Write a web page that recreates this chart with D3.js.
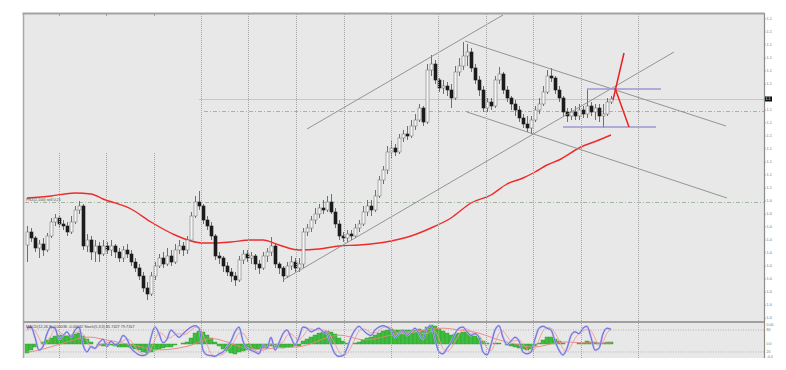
<!DOCTYPE html>
<html><head><meta charset="utf-8">
<script src="https://cdn.jsdelivr.net/npm/d3@7"></script>
<style>html,body{margin:0;padding:0;background:#fff;} svg{display:block;}</style>
</head><body>
<svg id="c" width="786" height="370"></svg>
<script>
// ---------- DATA ----------
const openP = [1.0715,1.0780,1.0750,1.0700,1.0720,1.0690,1.0760,1.0830,1.0850,1.0820,
1.0810,1.0780,1.0830,1.0890,1.0910,1.0710,1.0740,1.0680,1.0710,1.0670,
1.0710,1.0690,1.0710,1.0680,1.0650,1.0690,1.0670,1.0630,1.0600,1.0560,
1.0500,1.0470,1.0560,1.0610,1.0650,1.0620,1.0660,1.0630,1.0690,1.0710,
1.0690,1.0740,1.0860,1.0930,1.0910,1.0840,1.0810,1.0760,1.0660,1.0650,
1.0610,1.0580,1.0560,1.0540,1.0640,1.0670,1.0650,1.0660,1.0620,1.0600,
1.0660,1.0680,1.0710,1.0620,1.0600,1.0560,1.0610,1.0630,1.0600,1.0620,
1.0780,1.0800,1.0840,1.0870,1.0900,1.0890,1.0930,1.0880,1.0820,1.0760,
1.0750,1.0770,1.0760,1.0800,1.0820,1.0880,1.0910,1.0890,1.0960,1.1040,
1.1090,1.1180,1.1200,1.1180,1.1250,1.1270,1.1260,1.1310,1.1340,1.1400,
1.1330,1.1590,1.1620,1.1540,1.1500,1.1510,1.1490,1.1450,1.1580,1.1610,
1.1660,1.1680,1.1600,1.1540,1.1490,1.1400,1.1430,1.1410,1.1540,1.1570,
1.1490,1.1450,1.1420,1.1390,1.1350,1.1320,1.1300,1.1340,1.1390,1.1420,
1.1480,1.1560,1.1550,1.1490,1.1450,1.1380,1.1360,1.1380,1.1360,1.1390,
1.1370,1.1410,1.1380,1.1400,1.1360,1.1370,1.1430];
const highP = [1.0810,1.0800,1.0760,1.0740,1.0750,1.0775,1.0850,1.0870,1.0860,1.0840,
1.0830,1.0860,1.0910,1.0935,1.0920,1.0770,1.0760,1.0740,1.0730,1.0740,
1.0730,1.0740,1.0720,1.0700,1.0710,1.0720,1.0690,1.0650,1.0620,1.0580,
1.0530,1.0580,1.0630,1.0670,1.0680,1.0700,1.0690,1.0720,1.0740,1.0730,
1.0760,1.0880,1.0960,1.0985,1.0920,1.0860,1.0830,1.0770,1.0680,1.0660,
1.0630,1.0600,1.0580,1.0660,1.0690,1.0690,1.0680,1.0670,1.0640,1.0680,
1.0700,1.0755,1.0720,1.0630,1.0610,1.0630,1.0660,1.0650,1.0650,1.0800,
1.0820,1.0860,1.0900,1.0920,1.0940,1.0960,1.0970,1.0900,1.0840,1.0780,
1.0790,1.0790,1.0820,1.0840,1.0910,1.0940,1.0940,1.0990,1.1060,1.1110,
1.1210,1.1240,1.1220,1.1270,1.1290,1.1310,1.1340,1.1370,1.1420,1.1410,
1.1620,1.1665,1.1640,1.1550,1.1540,1.1530,1.1520,1.1610,1.1650,1.1730,
1.1720,1.1700,1.1620,1.1560,1.1510,1.1450,1.1450,1.1560,1.1605,1.1580,
1.1510,1.1460,1.1440,1.1410,1.1370,1.1360,1.1360,1.1410,1.1450,1.1510,
1.1590,1.1600,1.1560,1.1510,1.1460,1.1400,1.1400,1.1410,1.1420,1.1410,
1.1495,1.1430,1.1420,1.1420,1.1420,1.1450,1.1460];
const lowP = [1.0630,1.0730,1.0680,1.0650,1.0660,1.0680,1.0750,1.0810,1.0800,1.0790,
1.0760,1.0770,1.0820,1.0870,1.0690,1.0680,1.0640,1.0630,1.0630,1.0660,
1.0670,1.0660,1.0650,1.0630,1.0630,1.0650,1.0610,1.0580,1.0540,1.0480,
1.0440,1.0460,1.0540,1.0600,1.0600,1.0610,1.0610,1.0620,1.0670,1.0660,
1.0670,1.0730,1.0850,1.0890,1.0820,1.0790,1.0740,1.0640,1.0620,1.0580,
1.0560,1.0530,1.0510,1.0530,1.0620,1.0630,1.0620,1.0590,1.0570,1.0590,
1.0630,1.0660,1.0600,1.0570,1.0530,1.0550,1.0590,1.0580,1.0580,1.0600,
1.0760,1.0780,1.0820,1.0850,1.0870,1.0880,1.0870,1.0800,1.0740,1.0730,
1.0730,1.0740,1.0750,1.0780,1.0810,1.0860,1.0860,1.0880,1.0950,1.1020,
1.1070,1.1150,1.1160,1.1170,1.1230,1.1240,1.1250,1.1290,1.1330,1.1310,
1.1320,1.1560,1.1520,1.1480,1.1470,1.1460,1.1400,1.1440,1.1560,1.1590,
1.1610,1.1580,1.1520,1.1460,1.1380,1.1380,1.1390,1.1400,1.1520,1.1470,
1.1430,1.1390,1.1360,1.1330,1.1300,1.1280,1.1270,1.1330,1.1370,1.1410,
1.1470,1.1530,1.1470,1.1430,1.1360,1.1330,1.1340,1.1340,1.1340,1.1350,
1.1350,1.1360,1.1340,1.1330,1.1300,1.1360,1.1420];
const closeP = [1.0780,1.0750,1.0700,1.0720,1.0690,1.0760,1.0830,1.0850,1.0820,1.0810,
1.0780,1.0830,1.0890,1.0910,1.0710,1.0740,1.0680,1.0710,1.0670,1.0710,
1.0690,1.0710,1.0680,1.0650,1.0690,1.0670,1.0630,1.0600,1.0560,1.0500,
1.0470,1.0560,1.0610,1.0650,1.0620,1.0660,1.0630,1.0690,1.0710,1.0690,
1.0740,1.0860,1.0930,1.0910,1.0840,1.0810,1.0760,1.0660,1.0650,1.0610,
1.0580,1.0560,1.0540,1.0640,1.0670,1.0650,1.0660,1.0620,1.0600,1.0660,
1.0680,1.0710,1.0620,1.0600,1.0560,1.0610,1.0630,1.0600,1.0620,1.0780,
1.0800,1.0840,1.0870,1.0900,1.0890,1.0930,1.0880,1.0820,1.0760,1.0750,
1.0770,1.0760,1.0800,1.0820,1.0880,1.0910,1.0890,1.0960,1.1040,1.1090,
1.1180,1.1200,1.1180,1.1250,1.1270,1.1260,1.1310,1.1340,1.1400,1.1330,
1.1590,1.1620,1.1540,1.1500,1.1510,1.1490,1.1450,1.1580,1.1610,1.1660,
1.1680,1.1600,1.1540,1.1490,1.1400,1.1430,1.1410,1.1540,1.1570,1.1490,
1.1450,1.1420,1.1390,1.1350,1.1320,1.1300,1.1340,1.1390,1.1420,1.1480,
1.1560,1.1550,1.1490,1.1450,1.1380,1.1360,1.1380,1.1360,1.1390,1.1370,
1.1410,1.1380,1.1400,1.1360,1.1370,1.1430,1.1445];

// 200-period moving average read at selected bars: [bar, price]
const maPoints = [[0,1.0950],[6,1.0960],[12,1.0975],[16,1.0970],[19,1.0945],[26,1.0895],[31,1.0830],[37,1.0765],[41,1.0735],[44,1.0725],[47,1.0725],[51,1.0730],[56,1.0740],[59,1.0740],[63,1.0715],[68,1.0690],[73,1.0695],[78,1.0710],[83,1.0715],[91,1.0735],[96,1.0760],[101,1.0800],[106,1.0850],[111,1.0925],[116,1.0965],[120,1.1020],[124,1.1050],[127,1.1080],[130,1.1115],[133,1.1140],[138,1.1200],[143,1.1240],[146,1.1265]];

// drawn objects: [bar1, price1, bar2, price2]
const trendLines = [[70,1.1295,119,1.1865],[64,1.0540,161.75,1.1680],[109.5,1.1735,174.75,1.1310],[110,1.1380,175,1.0950]];
const levelLines = [[140,1.1495,158.5,1.1495],[134,1.1305,157.25,1.1305]];
const redLines = [[146.5,1.1440,149.25,1.1675],[147,1.1500,150.5,1.1305]];

// order / price levels: [startBar, price]
const orderLevels = [[-0.5,1.0930],[44.25,1.1385]];
const bidLevel = [43,1.1445];
const orderLabel = "PRZ(2,100) sell 0.21";

// time grid (bar positions)
const gridBars = [8,19.75,31.75,43.5,55.25,67.25,79.25,91,102.75,114.75,126.5,138.5,152.75];

// price axis ticks
const priceTicks = [1.1845,1.1780,1.1715,1.1650,1.1585,1.1520,1.1455,1.1390,1.1325,1.1260,1.1195,1.1130,1.1065,1.1000,1.0935,1.0870,1.0805,1.0740,1.0675,1.0610,1.0545,1.0480,1.0415,1.0350];

// MACD histogram and signal (pips)
const macdHist = [-45,-30,-15,0,10,20,30,40,45,45,40,45,50,55,40,25,10,0,-5,-10,-10,-5,-10,-15,-15,-15,-20,-25,-30,-40,-45,-40,-30,-25,-20,-15,-15,-5,0,5,10,30,55,65,60,45,30,10,-10,-25,-35,-45,-50,-40,-35,-30,-25,-25,-25,-20,-15,-10,-15,-15,-20,-15,-15,-10,-10,15,25,35,45,55,60,65,60,50,30,15,5,0,5,10,20,30,35,45,55,65,70,75,70,70,70,70,70,70,75,70,85,95,90,75,65,55,45,50,55,60,60,50,40,30,15,5,0,5,5,0,-5,-10,-15,-20,-25,-30,-25,-10,5,20,35,35,25,15,5,0,0,0,5,5,15,10,10,5,5,10,10];
const macdSignal = [-40,-38,-35,-30,-25,-20,-14,-8,-2,4,10,16,22,28,32,34,34,32,28,24,20,16,12,8,4,0,-4,-8,-12,-17,-22,-26,-28,-29,-29,-28,-26,-23,-20,-16,-12,-6,2,10,18,24,27,26,22,16,10,4,-4,-12,-18,-22,-25,-26,-26,-25,-24,-22,-20,-19,-18,-17,-16,-15,-14,-10,-5,2,9,17,25,32,38,42,44,43,39,34,28,24,21,21,23,26,30,35,40,45,50,54,58,61,63,65,67,68,70,73,76,78,79,78,76,73,70,68,66,63,59,54,48,41,34,27,21,15,10,5,0,-5,-9,-13,-15,-15,-13,-9,-4,1,5,8,10,10,9,8,7,6,6,6,6,5,5,5,5];
// Stochastic main and signal
const stochMain = [85,88,60,25,35,70,88,85,55,65,75,60,80,88,40,20,35,30,45,55,35,50,40,45,65,55,30,20,12,10,15,60,88,70,45,55,80,70,60,70,80,88,92,85,25,12,10,8,15,20,35,50,75,88,50,30,25,20,15,40,30,60,25,45,70,80,60,40,60,88,85,75,80,85,75,70,40,15,8,10,30,60,80,90,80,70,65,80,88,92,88,80,60,70,80,65,75,85,70,55,85,90,55,20,15,30,45,70,85,88,75,65,70,60,20,12,40,80,92,60,40,50,60,50,20,15,20,55,85,90,85,80,50,25,12,30,65,75,70,85,90,60,25,30,70,85,82];
const stochSignal = [80,84,78,58,40,43,64,81,76,68,65,67,72,76,69,50,32,28,37,43,45,47,42,45,50,55,50,35,21,14,12,28,54,73,68,57,60,68,70,67,70,79,87,88,67,41,16,10,11,14,23,35,53,71,71,56,35,25,20,25,28,43,38,43,47,65,70,60,53,63,78,83,80,80,80,77,62,42,21,11,16,33,57,77,83,80,72,72,78,87,89,87,76,70,70,72,73,75,77,70,70,77,77,55,30,22,30,48,67,81,83,76,70,65,50,31,24,44,71,77,64,50,50,53,43,28,18,30,53,77,87,85,72,52,29,22,36,57,70,77,82,78,58,38,48,72,80];
const indicatorLabel = "MACD(12,26,9) 0.00036 -0.00032  Stoch(5,3,3) 81.7427 79.7167";
const macdTicks = [95,0,-65];
const stochTicks = [80,20];

// ---------- DRAW ----------
const svg = d3.select('#c');
const L = 23, R = 764, T = 13, MT = 14, MB = 321, IT = 323, IB = 358;
const font = "'Liberation Sans', Arial, sans-serif";
const n = closeP.length;
const x = d3.scaleLinear().domain([0, 146]).range([27, 611]);
const y = d3.scaleLinear().domain([1.1870, 1.0335]).range([MT, MB]);
const yM = d3.scaleLinear().domain([-75, 105]).range([359, 323]);
const yS = d3.scaleLinear().domain([0, 100]).range([359.3, 322.7]);

svg.append('rect').attr('width', 786).attr('height', 370).attr('fill', '#fff');
svg.append('rect').attr('x', L).attr('y', MT).attr('width', R - L).attr('height', MB - MT).attr('fill', '#e8e8e8');
svg.append('rect').attr('x', L).attr('y', IT).attr('width', R - L).attr('height', IB - IT).attr('fill', '#e8e8e8');

const defs = svg.append('defs');
defs.append('clipPath').attr('id', 'cm').append('rect').attr('x', L + 1).attr('y', MT).attr('width', R - L - 1).attr('height', MB - MT);
defs.append('clipPath').attr('id', 'ci').append('rect').attr('x', L + 1).attr('y', IT).attr('width', R - L - 1).attr('height', IB - IT);

const gm = svg.append('g').attr('clip-path', 'url(#cm)');
const gi = svg.append('g').attr('clip-path', 'url(#ci)');

// vertical grid
gridBars.forEach((b, k) => {
  const gx = Math.round(x(b)) + 0.5;
  const top = k < 3 ? y(1.1175) : MT;
  svg.append('line').attr('x1', gx).attr('x2', gx).attr('y1', top).attr('y2', MB)
    .attr('stroke', '#a4a4a4').attr('stroke-width', 1).attr('stroke-dasharray', '1,1');
  svg.append('line').attr('x1', gx).attr('x2', gx).attr('y1', IT).attr('y2', IB)
    .attr('stroke', '#a4a4a4').attr('stroke-width', 1).attr('stroke-dasharray', '1,1');
  if (k < 3) svg.append('line').attr('x1', gx).attr('x2', gx).attr('y1', MT).attr('y2', MT + 2).attr('stroke', '#a4a4a4');
});

// bid line
gm.append('line').attr('x1', x(bidLevel[0])).attr('x2', R).attr('y1', Math.round(y(bidLevel[1])) + 0.5).attr('y2', Math.round(y(bidLevel[1])) + 0.5)
  .attr('stroke', '#c6c6c6').attr('stroke-width', 1);
// order levels
orderLevels.forEach(d => {
  const yy = Math.round(y(d[1])) + 0.5;
  gm.append('line').attr('x1', Math.max(L + 1, x(d[0]))).attr('x2', R).attr('y1', yy).attr('y2', yy)
    .attr('stroke', '#9fb89f').attr('stroke-width', 1).attr('stroke-dasharray', '4,2,1,2');
});
svg.append('text').attr('x', 26).attr('y', y(orderLevels[0][1]) - 0.8).attr('font-family', font).attr('font-size', 3.8)
  .attr('fill', '#555').text(orderLabel);

// moving average
gm.append('path').datum(maPoints)
  .attr('d', d3.line().x(d => x(d[0])).y(d => y(d[1])).curve(d3.curveMonotoneX))
  .attr('fill', 'none').attr('stroke', '#ee2b2b').attr('stroke-width', 1.4);

// candles
const bars = d3.range(n);
gm.selectAll('line.wick').data(bars).join('line').attr('class', 'wick')
  .attr('x1', i => x(i) + 0.5).attr('x2', i => x(i) + 0.5)
  .attr('y1', i => y(highP[i])).attr('y2', i => y(lowP[i]))
  .attr('stroke', '#6f6f6f').attr('stroke-width', 1);
gm.selectAll('rect.body').data(bars).join('rect').attr('class', 'body')
  .attr('x', i => x(i) - 1).attr('width', 3)
  .attr('y', i => y(Math.max(openP[i], closeP[i])))
  .attr('height', i => Math.max(1, Math.abs(y(openP[i]) - y(closeP[i]))))
  .attr('fill', i => closeP[i] >= openP[i] ? '#f4f4f4' : '#1c1c1c')
  .attr('stroke', i => closeP[i] >= openP[i] ? '#7d7d7d' : '#1c1c1c')
  .attr('stroke-width', 0.6);

// trendlines
const seg = (g, arr, color, w) => g.selectAll(null).data(arr).join('line')
  .attr('x1', d => x(d[0])).attr('y1', d => y(d[1])).attr('x2', d => x(d[2])).attr('y2', d => y(d[3]))
  .attr('stroke', color).attr('stroke-width', w);
seg(gm, trendLines, '#8a8a8a', 0.9);
seg(gm, levelLines, '#9a9ad2', 1.5);
seg(gm, redLines, '#e82222', 1.5);

// right price axis
const by = y(closeP[n - 1]);
svg.append('line').attr('x1', R + 0.5).attr('x2', R + 0.5).attr('y1', T).attr('y2', IB).attr('stroke', '#8c8c8c').attr('stroke-width', 1.2);
priceTicks.forEach(p => {
  const yy = y(p);
  svg.append('line').attr('x1', R).attr('x2', R + 2).attr('y1', yy).attr('y2', yy).attr('stroke', '#8c8c8c').attr('stroke-width', 0.6);
  if (Math.abs(yy - by) < 5) return; // hidden behind current price box
  svg.append('text').attr('x', 766.5).attr('y', yy + 1.4).attr('font-family', font).attr('font-size', 4)
    .attr('fill', '#777').text(p.toFixed(4).slice(0, 3));
});
// current price box
svg.append('rect').attr('x', 765).attr('y', by - 2.5).attr('width', 7).attr('height', 5).attr('fill', '#111');
svg.append('text').attr('x', 765.5).attr('y', by + 1.3).attr('font-family', font).attr('font-size', 3.6).attr('fill', '#fff')
  .text(closeP[n - 1].toFixed(4).slice(0, 3));

// borders
svg.append('line').attr('x1', L - 0.5).attr('x2', R + 0.5).attr('y1', T + 0.5).attr('y2', T + 0.5).attr('stroke', '#a2a2a2').attr('stroke-width', 2);
svg.append('line').attr('x1', L + 0.5).attr('x2', L + 0.5).attr('y1', T).attr('y2', IB).attr('stroke', '#a8a8a8').attr('stroke-width', 1.5);
svg.append('line').attr('x1', L).attr('x2', R).attr('y1', 322).attr('y2', 322).attr('stroke', '#a0a0a0').attr('stroke-width', 2);

// ---------- indicator panel ----------
stochTicks.forEach(v => {
  gi.append('line').attr('x1', L).attr('x2', R).attr('y1', yS(v)).attr('y2', yS(v))
    .attr('stroke', '#a8a8a8').attr('stroke-width', 0.8).attr('stroke-dasharray', '1,1.5');
});
gi.selectAll('rect.h').data(d3.range(macdHist.length)).join('rect').attr('class', 'h')
  .attr('x', i => x(i) - 2).attr('width', 4)
  .attr('y', i => Math.min(yM(0), yM(macdHist[i])))
  .attr('height', i => Math.abs(yM(macdHist[i]) - yM(0)))
  .attr('fill', '#3fbd3f').attr('stroke', '#2c9c2c').attr('stroke-width', 0.4);
const ln = (arr, sc) => d3.line().x((d, i) => x(i)).y(d => sc(d)).curve(d3.curveMonotoneX)(arr);
gi.append('path').attr('d', ln(macdSignal, yM)).attr('fill', 'none').attr('stroke', '#ef7f7f').attr('stroke-width', 0.9);
gi.append('path').attr('d', ln(stochSignal, yS)).attr('fill', 'none').attr('stroke', '#f29a9a').attr('stroke-width', 0.9);
gi.append('path').attr('d', ln(stochMain, yS)).attr('fill', 'none').attr('stroke', '#b4b4f0').attr('stroke-width', 2);
gi.append('path').attr('d', ln(stochMain, yS)).attr('fill', 'none').attr('stroke', '#5c5cd0').attr('stroke-width', 0.8);

svg.append('text').attr('x', 26).attr('y', 327.6).attr('font-family', font).attr('font-size', 3.8)
  .attr('fill', '#444').text(indicatorLabel);

macdTicks.forEach(v => {
  svg.append('text').attr('x', 766.5).attr('y', yM(v) + 1.3).attr('font-family', font).attr('font-size', 3.6)
    .attr('fill', '#777').text((v / 10000).toFixed(4).slice(0, v < 0 ? 4 : 3 + (v > 0 ? 1 : 0)));
});
stochTicks.forEach(v => {
  svg.append('text').attr('x', 766.5).attr('y', yS(v) + 1.3).attr('font-family', font).attr('font-size', 3.6)
    .attr('fill', '#777').text(String(v));
});
</script>
</body></html>
